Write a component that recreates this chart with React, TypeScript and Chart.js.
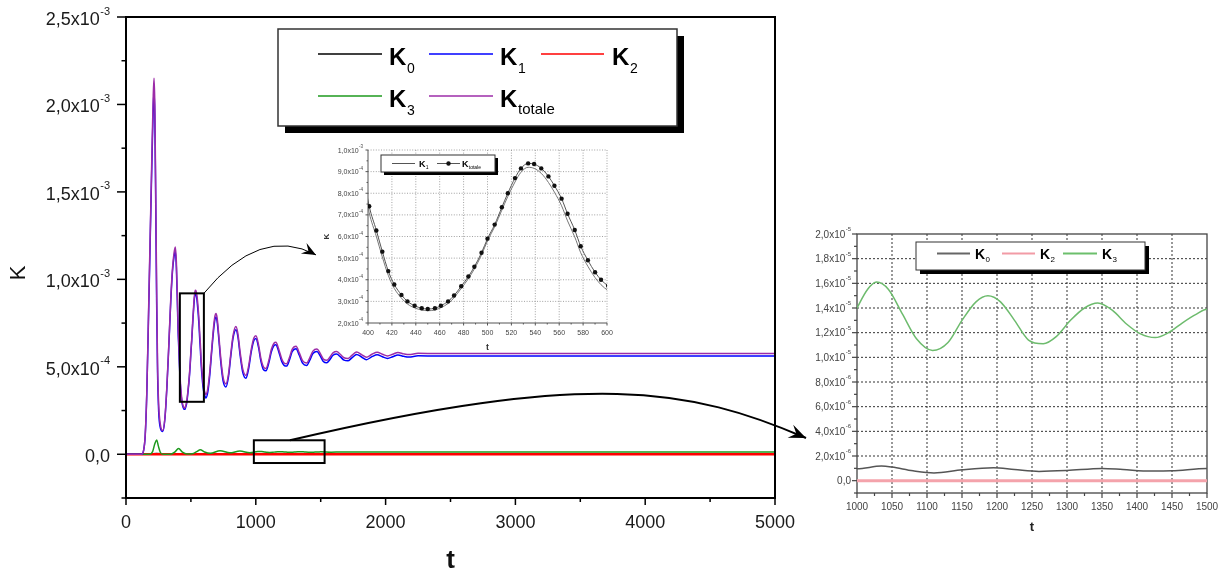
import React, { useEffect, useRef } from 'react';
import { Chart, registerables } from 'chart.js';

Chart.register(...registerables);

const FONT = '"Liberation Sans", Arial, Helvetica, sans-serif';

// ---------------- data ----------------
const tMain = [
  0, 60, 120, 135, 148, 160, 172, 182, 192, 202,
  210, 216, 222, 229, 236, 243, 252, 265, 283, 300,
  315, 330, 345, 358, 370, 380, 388, 395, 401, 407,
  412, 417, 422, 428, 433, 439, 445, 450, 456, 461,
  467, 472, 478, 484, 489, 495, 500, 506, 512, 517,
  523, 528, 534, 539, 545, 551, 556, 562, 567, 573,
  578, 584, 590, 595, 601, 612, 616, 630, 645, 660,
  675, 685, 693, 702, 715, 730, 748, 770, 790, 808,
  825, 847, 862, 880, 900, 924, 945, 965, 985, 1001,
  1020, 1040, 1060, 1078, 1100, 1120, 1140, 1155, 1175, 1200,
  1218, 1237, 1258, 1280, 1310, 1335, 1360, 1392, 1415, 1440,
  1471, 1495, 1520, 1547, 1570, 1595, 1623, 1650, 1680, 1709,
  1740, 1777, 1815, 1852, 1895, 1935, 1975, 2015, 2055, 2095,
  2140, 2180, 2250, 2400, 3000, 4000, 5000,
];

const kTotale = [
  0, 0, 0, 2e-5, 1.1e-4, 3.5e-4, 7.5e-4, 1.1e-3, 1.45e-3, 1.8e-3,
  2.05e-3, 2.15e-3, 2.0e-3, 1.5e-3, 9.5e-4, 5.2e-4, 2.8e-4, 1.7e-4, 1.36e-4, 2.1e-4,
  3.9e-4, 6.3e-4, 8.9e-4, 1.06e-3, 1.15e-3, 1.185e-3, 1.1e-3, 9.2e-4, 7.4e-4, 6.28e-4,
  5.3e-4, 4.4e-4, 3.78e-4, 3.3e-4, 3.0e-4, 2.8e-4, 2.68e-4, 2.65e-4, 2.68e-4, 2.8e-4,
  3.0e-4, 3.27e-4, 3.7e-4, 4.15e-4, 4.6e-4, 5.25e-4, 5.9e-4, 6.55e-4, 7.35e-4, 8.0e-4,
  8.7e-4, 9.15e-4, 9.38e-4, 9.35e-4, 9.15e-4, 8.78e-4, 8.35e-4, 7.75e-4, 7.05e-4, 6.3e-4,
  5.55e-4, 4.9e-4, 4.35e-4, 4.0e-4, 3.72e-4, 3.45e-4, 3.42e-4, 3.75e-4, 4.7e-4, 6.0e-4,
  7.3e-4, 7.9e-4, 8.05e-4, 7.8e-4, 6.8e-4, 5.5e-4, 4.4e-4, 4.03e-4, 4.6e-4, 5.8e-4,
  6.8e-4, 7.3e-4, 6.9e-4, 5.8e-4, 4.85e-4, 4.51e-4, 5.05e-4, 6.0e-4, 6.65e-4, 6.77e-4,
  6.3e-4, 5.45e-4, 4.98e-4, 4.91e-4, 5.35e-4, 6.0e-4, 6.35e-4, 6.4e-4, 6.05e-4, 5.45e-4,
  5.22e-4, 5.18e-4, 5.5e-4, 6.0e-4, 6.17e-4, 5.8e-4, 5.35e-4, 5.22e-4, 5.5e-4, 5.9e-4,
  6.02e-4, 5.78e-4, 5.45e-4, 5.37e-4, 5.55e-4, 5.8e-4, 5.87e-4, 5.72e-4, 5.52e-4, 5.48e-4,
  5.65e-4, 5.85e-4, 5.7e-4, 5.55e-4, 5.72e-4, 5.83e-4, 5.72e-4, 5.62e-4, 5.72e-4, 5.82e-4,
  5.74e-4, 5.7e-4, 5.77e-4, 5.76e-4, 5.76e-4, 5.76e-4, 5.76e-4,
];

const k1 = [
  0, 0, 0, 2e-5, 1.05e-4, 3.4e-4, 7.3e-4, 1.07e-3, 1.42e-3, 1.75e-3,
  1.98e-3, 2.08e-3, 1.93e-3, 1.43e-3, 8.7e-4, 4.7e-4, 2.4e-4, 1.5e-4, 1.3e-4, 2.05e-4,
  3.8e-4, 6.2e-4, 8.75e-4, 1.045e-3, 1.13e-3, 1.16e-3, 1.07e-3, 8.9e-4, 7.1e-4, 6.0e-4,
  5.05e-4, 4.2e-4, 3.6e-4, 3.15e-4, 2.88e-4, 2.7e-4, 2.6e-4, 2.57e-4, 2.6e-4, 2.71e-4,
  2.9e-4, 3.17e-4, 3.6e-4, 4.05e-4, 4.5e-4, 5.15e-4, 5.8e-4, 6.45e-4, 7.22e-4, 7.85e-4,
  8.52e-4, 8.97e-4, 9.2e-4, 9.15e-4, 8.92e-4, 8.5e-4, 8.05e-4, 7.42e-4, 6.72e-4, 5.98e-4,
  5.25e-4, 4.62e-4, 4.1e-4, 3.77e-4, 3.5e-4, 3.25e-4, 3.22e-4, 3.55e-4, 4.5e-4, 5.85e-4,
  7.1e-4, 7.7e-4, 7.85e-4, 7.6e-4, 6.6e-4, 5.3e-4, 4.2e-4, 3.85e-4, 4.45e-4, 5.65e-4,
  6.65e-4, 7.12e-4, 6.72e-4, 5.62e-4, 4.67e-4, 4.35e-4, 4.9e-4, 5.85e-4, 6.5e-4, 6.62e-4,
  6.15e-4, 5.3e-4, 4.83e-4, 4.77e-4, 5.21e-4, 5.86e-4, 6.21e-4, 6.26e-4, 5.91e-4, 5.31e-4,
  5.08e-4, 5.04e-4, 5.36e-4, 5.86e-4, 6.03e-4, 5.66e-4, 5.21e-4, 5.08e-4, 5.36e-4, 5.76e-4,
  5.88e-4, 5.64e-4, 5.31e-4, 5.23e-4, 5.41e-4, 5.66e-4, 5.73e-4, 5.58e-4, 5.38e-4, 5.34e-4,
  5.51e-4, 5.71e-4, 5.56e-4, 5.41e-4, 5.58e-4, 5.69e-4, 5.58e-4, 5.48e-4, 5.58e-4, 5.68e-4,
  5.6e-4, 5.56e-4, 5.63e-4, 5.62e-4, 5.62e-4, 5.62e-4, 5.62e-4,
];

const tK3 = [
  0, 180, 205, 222, 236, 250, 265, 285, 340, 375,
  405, 435, 470, 510, 545, 572, 605, 650, 725, 800,
  878, 955, 1000, 1015, 1028, 1045, 1065, 1085, 1108, 1130,
  1150, 1170, 1187, 1205, 1225, 1245, 1266, 1285, 1305, 1325,
  1344, 1365, 1385, 1405, 1426, 1445, 1465, 1485, 1500, 1580,
  1660, 1800, 2000, 3000, 5000,
];
const k3 = [
  0, 0, 1.5e-5, 6e-5, 8.2e-5, 4.5e-5, 1e-5, 0, 0, 1.2e-5,
  3.3e-5, 1.2e-5, 2e-6, 3e-6, 1.5e-5, 2.6e-5, 1.3e-5, 6e-6, 2.0e-5, 8e-6,
  1.8e-5, 9e-6, 1.4e-5, 1.55e-5, 1.61e-5, 1.55e-5, 1.35e-5, 1.15e-5, 1.055e-5, 1.12e-5,
  1.3e-5, 1.45e-5, 1.5e-5, 1.45e-5, 1.3e-5, 1.14e-5, 1.11e-5, 1.17e-5, 1.3e-5, 1.4e-5,
  1.44e-5, 1.38e-5, 1.27e-5, 1.19e-5, 1.16e-5, 1.2e-5, 1.28e-5, 1.35e-5, 1.39e-5, 1.2e-5,
  1.35e-5, 1.25e-5, 1.3e-5, 1.3e-5, 1.3e-5,
];

const tK0 = [
  0, 180, 236, 300, 405, 480, 572, 700, 850, 1000,
  1035, 1050, 1080, 1110, 1150, 1195, 1225, 1260, 1300, 1350,
  1380, 1420, 1450, 1500, 2000, 5000,
];
const k0 = [
  0, 0, 5e-6, 1e-6, 2.5e-6, 5e-7, 2e-6, 8e-7, 1.2e-6, 9.6e-7,
  1.18e-6, 1.1e-6, 8e-7, 6.3e-7, 8.8e-7, 1.04e-6, 9e-7, 7.5e-7, 8.2e-7, 9.9e-7,
  9e-7, 7.8e-7, 8e-7, 9.9e-7, 9e-7, 9e-7,
];

const tK2 = [0, 5000];
const k2 = [0, 0];

// ---------------- ticks ----------------
const mainXTicks = [0, 1000, 2000, 3000, 4000, 5000];
const mainYTicks = [0, 5e-4, 1e-3, 1.5e-3, 2e-3, 2.5e-3];
const in1XTicks = [400, 420, 440, 460, 480, 500, 520, 540, 560, 580, 600];
const in1YTicks = [2e-4, 3e-4, 4e-4, 5e-4, 6e-4, 7e-4, 8e-4, 9e-4, 1e-3];
const in2XTicks = [1000, 1050, 1100, 1150, 1200, 1250, 1300, 1350, 1400, 1450, 1500];
const in2YTicks = [0, 2e-6, 4e-6, 6e-6, 8e-6, 1e-5, 1.2e-5, 1.4e-5, 1.6e-5, 1.8e-5, 2e-5];

// zoom windows (data coordinates of the main chart)
const zoomBox1 = { t0: 415, t1: 600, k0: 3.0e-4, k1: 9.2e-4 };
const zoomBox2 = { t0: 985, t1: 1530, k0: -5e-5, k1: 8e-5 };
const arrow1 = [[600, 9.2e-4], [1032, 1.311e-3], [1464, 1.14e-3]];
const arrow2 = [[1263, 8e-5], [3575, 4.82e-4], [4345, 3.79e-4], [5239, 9.3e-5]];

// ---------------- helpers ----------------
function pts(xs: number[], ys: number[]) {
  return xs.map((x, i) => ({ x, y: ys[i] }));
}

function ds(label: string, xs: number[], ys: number[], color: string, width: number, order: number, extra: any = {}) {
  return {
    label,
    data: pts(xs, ys),
    borderColor: color,
    backgroundColor: color,
    borderWidth: width,
    pointRadius: 0,
    cubicInterpolationMode: 'monotone',
    fill: false,
    order,
    ...extra,
  };
}

function seg(ctx: CanvasRenderingContext2D, x1: number, y1: number, x2: number, y2: number) {
  ctx.beginPath();
  ctx.moveTo(x1, y1);
  ctx.lineTo(x2, y2);
  ctx.stroke();
}

function minorsOf(ticks: number[], min: number) {
  const out: number[] = [];
  const step = ticks[1] - ticks[0];
  if (ticks[0] - step / 2 >= min - 1e-12) out.push(ticks[0] - step / 2);
  for (let i = 0; i < ticks.length - 1; i++) out.push((ticks[i] + ticks[i + 1]) / 2);
  return out;
}

function sciParts(v: number): [string, string | null] {
  if (v === 0) return ['0,0', null];
  const e = Math.floor(Math.log10(Math.abs(v)) + 1e-9);
  const m = Math.round((v / Math.pow(10, e)) * 10) / 10;
  return [m.toFixed(1).replace('.', ',') + 'x10', String(e)];
}

function drawSci(ctx: CanvasRenderingContext2D, v: number, xr: number, y: number, f: any) {
  const [m, e] = sciParts(v);
  ctx.fillStyle = f.color;
  ctx.textBaseline = 'alphabetic';
  ctx.textAlign = 'right';
  let x = xr;
  if (e !== null) {
    ctx.font = `${f.sup}px ${FONT}`;
    ctx.fillText(e, x, y + f.supDy);
    x -= ctx.measureText(e).width + f.gap;
  }
  ctx.font = `${f.size}px ${FONT}`;
  ctx.fillText(m, x, y + f.dy);
}

function arrowHead(ctx: CanvasRenderingContext2D, tx: number, ty: number, fx: number, fy: number, len: number, half: number) {
  const ang = Math.atan2(ty - fy, tx - fx);
  ctx.save();
  ctx.translate(tx, ty);
  ctx.rotate(ang);
  ctx.beginPath();
  ctx.moveTo(0, 0);
  ctx.lineTo(-len, -half);
  ctx.lineTo(-len * 0.62, 0);
  ctx.lineTo(-len, half);
  ctx.closePath();
  ctx.fill();
  ctx.restore();
}

function drawK(ctx: CanvasRenderingContext2D, x: number, base: number, size: number, sub: string, subSize: number, drop: number) {
  ctx.textAlign = 'left';
  ctx.textBaseline = 'alphabetic';
  ctx.fillStyle = '#000';
  ctx.font = `bold ${size}px ${FONT}`;
  ctx.fillText('K', x, base);
  const w = ctx.measureText('K').width;
  ctx.font = `${subSize}px ${FONT}`;
  ctx.fillText(sub, x + w + size * 0.03, base + drop);
}

function legendBox(ctx: CanvasRenderingContext2D, x: number, y: number, w: number, h: number, sh: number, lw: number) {
  ctx.fillStyle = '#000';
  ctx.fillRect(x + sh, y + sh, w, h);
  ctx.fillStyle = '#fff';
  ctx.fillRect(x, y, w, h);
  ctx.strokeStyle = '#333';
  ctx.lineWidth = lw;
  ctx.strokeRect(x, y, w, h);
}

function legLine(ctx: CanvasRenderingContext2D, x1: number, x2: number, y: number, color: string, w: number) {
  ctx.strokeStyle = color;
  ctx.lineWidth = w;
  seg(ctx, x1, y, x2, y);
}

// ---------------- plugins ----------------
const mainDeco = {
  id: 'mainDeco',
  afterDatasetsDraw(chart: any) {
    const ctx = chart.ctx as CanvasRenderingContext2D;
    const a = chart.chartArea;
    const xs = chart.scales.x;
    const ys = chart.scales.y;
    const X = (v: number) => xs.getPixelForValue(v);
    const Y = (v: number) => ys.getPixelForValue(v);
    ctx.save();
    ctx.strokeStyle = '#000';
    ctx.fillStyle = '#000';

    // zoom rectangles
    ctx.lineWidth = 2;
    [zoomBox1, zoomBox2].forEach((b) => {
      ctx.strokeRect(X(b.t0), Y(b.k1), X(b.t1) - X(b.t0), Y(b.k0) - Y(b.k1));
    });

    // arrow 1 (thin)
    ctx.lineWidth = 1;
    ctx.beginPath();
    ctx.moveTo(X(arrow1[0][0]), Y(arrow1[0][1]));
    ctx.quadraticCurveTo(X(arrow1[1][0]), Y(arrow1[1][1]), X(arrow1[2][0]), Y(arrow1[2][1]));
    ctx.stroke();
    arrowHead(ctx, X(arrow1[2][0]), Y(arrow1[2][1]), X(arrow1[1][0]), Y(arrow1[1][1]), 14, 6);

    // arrow 2 (thick)
    ctx.lineWidth = 2;
    ctx.beginPath();
    ctx.moveTo(X(arrow2[0][0]), Y(arrow2[0][1]));
    ctx.bezierCurveTo(
      X(arrow2[1][0]), Y(arrow2[1][1]),
      X(arrow2[2][0]), Y(arrow2[2][1]),
      X(arrow2[3][0]), Y(arrow2[3][1])
    );
    ctx.stroke();
    arrowHead(ctx, X(arrow2[3][0]), Y(arrow2[3][1]), X(arrow2[2][0]), Y(arrow2[2][1]), 17, 7);

    // frame
    ctx.lineWidth = 2;
    ctx.strokeRect(a.left, a.top, a.right - a.left, a.bottom - a.top);

    // ticks
    ctx.lineWidth = 1.5;
    mainYTicks.forEach((v) => seg(ctx, a.left - 9, Y(v), a.left, Y(v)));
    minorsOf(mainYTicks, -2.5e-4).forEach((v) => seg(ctx, a.left - 4.5, Y(v), a.left, Y(v)));
    mainXTicks.forEach((v) => seg(ctx, X(v), a.bottom, X(v), a.bottom + 7));
    minorsOf(mainXTicks, 0).forEach((v) => seg(ctx, X(v), a.bottom, X(v), a.bottom + 4));

    // tick labels
    mainYTicks.forEach((v) =>
      drawSci(ctx, v, a.left - 16, Y(v), { color: '#1a1a1a', size: 18, sup: 11, dy: 8, supDy: -2.5, gap: 0.5 })
    );
    ctx.fillStyle = '#1a1a1a';
    ctx.font = `18px ${FONT}`;
    ctx.textAlign = 'center';
    ctx.textBaseline = 'alphabetic';
    mainXTicks.forEach((v) => ctx.fillText(String(v), X(v), a.bottom + 30));

    // axis titles
    ctx.save();
    ctx.translate(a.left - 107, a.top + 256);
    ctx.rotate(-Math.PI / 2);
    ctx.font = `22px ${FONT}`;
    ctx.textAlign = 'center';
    ctx.textBaseline = 'middle';
    ctx.fillStyle = '#111';
    ctx.fillText('K', 0, 0);
    ctx.restore();
    ctx.font = `bold 26px ${FONT}`;
    ctx.textAlign = 'center';
    ctx.textBaseline = 'alphabetic';
    ctx.fillStyle = '#111';
    ctx.fillText('t', (a.left + a.right) / 2, a.bottom + 70);

    // legend
    const lx = a.left + 152;
    const ly = a.top + 12;
    legendBox(ctx, lx, ly, 399, 97, 7, 1.5);
    const r1 = ly + 25;
    const r2 = ly + 67;
    legLine(ctx, lx + 40, lx + 104, r1, '#000', 1.5);
    drawK(ctx, lx + 111, r1 + 11, 24, '0', 14, 8);
    legLine(ctx, lx + 151, lx + 215, r1, '#0000ff', 1.5);
    drawK(ctx, lx + 222, r1 + 11, 24, '1', 14, 8);
    legLine(ctx, lx + 263, lx + 326, r1, '#ff0000', 1.5);
    drawK(ctx, lx + 334, r1 + 11, 24, '2', 14, 8);
    legLine(ctx, lx + 40, lx + 104, r2, '#1e9a1e', 1.5);
    drawK(ctx, lx + 111, r2 + 11, 24, '3', 14, 8);
    legLine(ctx, lx + 151, lx + 215, r2, '#9c2ca8', 1.5);
    drawK(ctx, lx + 222, r2 + 11, 24, 'totale', 15, 7);

    ctx.restore();
  },
};

const inset1Deco = {
  id: 'inset1Deco',
  beforeDatasetsDraw(chart: any) {
    const ctx = chart.ctx as CanvasRenderingContext2D;
    const a = chart.chartArea;
    const X = (v: number) => chart.scales.x.getPixelForValue(v);
    const Y = (v: number) => chart.scales.y.getPixelForValue(v);
    ctx.save();
    ctx.strokeStyle = '#8a8a8a';
    ctx.lineWidth = 0.8;
    ctx.setLineDash([1, 1.6]);
    in1XTicks.slice(1).forEach((v) => seg(ctx, X(v), a.top, X(v), a.bottom));
    in1YTicks.slice(1).forEach((v) => seg(ctx, a.left, Y(v), a.right, Y(v)));
    ctx.setLineDash([]);
    ctx.strokeStyle = '#555';
    ctx.lineWidth = 1;
    seg(ctx, a.left, a.top, a.left, a.bottom);
    seg(ctx, a.left, a.bottom, a.right, a.bottom);
    in1YTicks.forEach((v) => seg(ctx, a.left - 2.5, Y(v), a.left, Y(v)));
    minorsOf(in1YTicks, 2e-4).forEach((v) => seg(ctx, a.left - 1.5, Y(v), a.left, Y(v)));
    in1XTicks.forEach((v) => seg(ctx, X(v), a.bottom, X(v), a.bottom + 2.5));
    minorsOf(in1XTicks, 400).forEach((v) => seg(ctx, X(v), a.bottom, X(v), a.bottom + 1.5));

    in1YTicks.forEach((v) =>
      drawSci(ctx, v, a.left - 5, Y(v), { color: '#444', size: 7, sup: 4.5, dy: 2.5, supDy: -2, gap: 0.3 })
    );
    ctx.fillStyle = '#444';
    ctx.font = `7px ${FONT}`;
    ctx.textAlign = 'center';
    ctx.textBaseline = 'alphabetic';
    in1XTicks.forEach((v) => ctx.fillText(String(v), X(v), a.bottom + 12));

    ctx.font = `bold 9px ${FONT}`;
    ctx.fillStyle = '#333';
    ctx.fillText('t', (a.left + a.right) / 2, a.bottom + 27);
    ctx.save();
    ctx.translate(a.left - 41, (a.top + a.bottom) / 2);
    ctx.rotate(-Math.PI / 2);
    ctx.font = `bold 8px ${FONT}`;
    ctx.textBaseline = 'middle';
    ctx.fillText('K', 0, 0);
    ctx.restore();
    ctx.restore();
  },
  afterDatasetsDraw(chart: any) {
    const ctx = chart.ctx as CanvasRenderingContext2D;
    const a = chart.chartArea;
    ctx.save();
    const lx = a.left + 13;
    const ly = a.top + 5;
    legendBox(ctx, lx, ly, 114, 17, 3, 1);
    const r = ly + 8.5;
    legLine(ctx, lx + 11, lx + 34, r, '#555', 1);
    drawK(ctx, lx + 38, r + 3.5, 9, '1', 5, 2);
    legLine(ctx, lx + 56, lx + 79, r, '#555', 1);
    ctx.fillStyle = '#111';
    ctx.beginPath();
    ctx.arc(lx + 67.5, r, 2.2, 0, Math.PI * 2);
    ctx.fill();
    drawK(ctx, lx + 81, r + 3.5, 9, 'totale', 5, 2);
    ctx.restore();
  },
};

const inset2Deco = {
  id: 'inset2Deco',
  beforeDatasetsDraw(chart: any) {
    const ctx = chart.ctx as CanvasRenderingContext2D;
    const a = chart.chartArea;
    const X = (v: number) => chart.scales.x.getPixelForValue(v);
    const Y = (v: number) => chart.scales.y.getPixelForValue(v);
    ctx.save();
    ctx.strokeStyle = '#333';
    ctx.lineWidth = 1;
    ctx.setLineDash([2, 2]);
    in2XTicks.slice(1, -1).forEach((v) => seg(ctx, X(v), a.top, X(v), a.bottom));
    in2YTicks.slice(0, -1).forEach((v) => seg(ctx, a.left, Y(v), a.right, Y(v)));
    ctx.setLineDash([]);
    ctx.strokeStyle = '#444';
    ctx.lineWidth = 1.3;
    ctx.strokeRect(a.left, a.top, a.right - a.left, a.bottom - a.top);
    ctx.lineWidth = 1.2;
    in2YTicks.forEach((v) => seg(ctx, a.left - 5, Y(v), a.left, Y(v)));
    minorsOf(in2YTicks, -1e-6).forEach((v) => seg(ctx, a.left - 3, Y(v), a.left, Y(v)));
    in2XTicks.forEach((v) => seg(ctx, X(v), a.bottom, X(v), a.bottom + 5));
    minorsOf(in2XTicks, 1000).forEach((v) => seg(ctx, X(v), a.bottom, X(v), a.bottom + 3));

    in2YTicks.forEach((v) =>
      drawSci(ctx, v, a.left - 6, Y(v), { color: '#444', size: 10, sup: 6, dy: 3.5, supDy: -3, gap: 0.4 })
    );
    ctx.fillStyle = '#444';
    ctx.font = `10px ${FONT}`;
    ctx.textAlign = 'center';
    ctx.textBaseline = 'alphabetic';
    in2XTicks.forEach((v) => ctx.fillText(String(v), X(v), a.bottom + 17));
    ctx.font = `bold 13px ${FONT}`;
    ctx.fillStyle = '#222';
    ctx.fillText('t', (a.left + a.right) / 2, a.bottom + 38);
    ctx.restore();
  },
  afterDatasetsDraw(chart: any) {
    const ctx = chart.ctx as CanvasRenderingContext2D;
    const a = chart.chartArea;
    ctx.save();
    const lx = a.left + 59;
    const ly = a.top + 8;
    legendBox(ctx, lx, ly, 229, 28, 4, 1);
    const r = ly + 11.5;
    legLine(ctx, lx + 21, lx + 54, r, '#666', 2);
    drawK(ctx, lx + 59, r + 5, 14, '0', 8, 3.5);
    legLine(ctx, lx + 86, lx + 119, r, '#f29ba6', 2);
    drawK(ctx, lx + 124, r + 5, 14, '2', 8, 3.5);
    legLine(ctx, lx + 147, lx + 181, r, '#6cbf6c', 2);
    drawK(ctx, lx + 186, r + 5, 14, '3', 8, 3.5);
    ctx.restore();
  },
};

function baseOptions(padding: any, xr: [number, number], yr: [number, number]) {
  return {
    responsive: false,
    animation: false,
    devicePixelRatio: 1,
    events: [],
    layout: { padding },
    scales: {
      x: { type: 'linear', min: xr[0], max: xr[1], display: false },
      y: { type: 'linear', min: yr[0], max: yr[1], display: false },
    },
    plugins: { legend: { display: false }, tooltip: { enabled: false }, title: { display: false } },
  };
}

export default function App() {
  const mainRef = useRef<HTMLCanvasElement>(null);
  const in1Ref = useRef<HTMLCanvasElement>(null);
  const in2Ref = useRef<HTMLCanvasElement>(null);

  useEffect(() => {
    const charts: Chart[] = [];
    if (mainRef.current) {
      charts.push(
        new Chart(mainRef.current, {
          type: 'line',
          data: {
            datasets: [
              ds('K0', tK0, k0, '#000000', 1.5, 5),
              ds('K2', tK2, k2, '#ff0000', 2.5, 4),
              ds('K3', tK3, k3, '#1e9a1e', 1.5, 3),
              ds('K1', tMain, k1, '#0000ff', 1.5, 2),
              ds('Ktotale', tMain, kTotale, '#9c2ca8', 1.5, 1),
            ],
          },
          options: baseOptions({ left: 126, right: 1221 - 775, top: 17, bottom: 571 - 498 }, [0, 5000], [-2.5e-4, 2.5e-3]) as any,
          plugins: [mainDeco],
        } as any)
      );
    }
    if (in1Ref.current) {
      charts.push(
        new Chart(in1Ref.current, {
          type: 'line',
          data: {
            datasets: [
              ds('K1', tMain, k1, '#777777', 1, 2),
              ds('Ktotale', tMain, kTotale, '#555555', 1, 1, {
                pointRadius: 2.2,
                pointBackgroundColor: '#111',
                pointBorderWidth: 0,
              }),
            ],
          },
          options: baseOptions({ left: 68, right: 23, top: 10, bottom: 37 }, [400, 600], [2e-4, 1e-3]) as any,
          plugins: [inset1Deco],
        } as any)
      );
    }
    if (in2Ref.current) {
      charts.push(
        new Chart(in2Ref.current, {
          type: 'line',
          data: {
            datasets: [
              ds('K0', tK0, k0, '#555555', 1.5, 3),
              ds('K2', tK2, k2, '#f4a3ab', 3, 2),
              ds('K3', tK3, k3, '#6dbb6d', 1.5, 1),
            ],
          },
          options: baseOptions({ left: 52, right: 14, top: 19, bottom: 52 }, [1000, 1500], [-1e-6, 2e-5]) as any,
          plugins: [inset2Deco],
        } as any)
      );
    }
    return () => charts.forEach((c) => c.destroy());
  }, []);

  return (
    <div style={{ position: 'absolute', left: 0, top: 0, width: 1221, height: 571, background: '#fff', overflow: 'hidden' }}>
      <canvas ref={mainRef} width={1221} height={571} style={{ position: 'absolute', left: 0, top: 0 }} />
      <canvas ref={in1Ref} width={330} height={220} style={{ position: 'absolute', left: 300, top: 140 }} />
      <canvas ref={in2Ref} width={416} height={330} style={{ position: 'absolute', left: 805, top: 215 }} />
    </div>
  );
}
